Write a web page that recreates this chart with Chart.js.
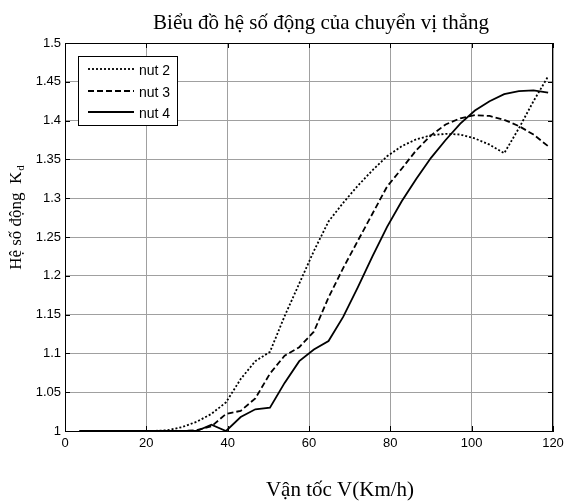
<!DOCTYPE html>
<html>
<head>
<meta charset="utf-8">
<script src="https://cdn.jsdelivr.net/npm/chart.js@4.4.0/dist/chart.umd.min.js"></script>
<style>
    html, body { margin: 0; padding: 0; background: #fff; }
    #wrap { width: 569px; height: 502px; }
</style>
</head>
<body>
<div id="wrap"><canvas id="chart"></canvas></div>
<script>
// van toc (km/h)
const speeds = [3.6, 7.2, 10.8, 14.4, 18, 21.6, 25.2, 28.8, 32.4, 36, 39.6, 43.2, 46.8, 50.4, 54, 57.6, 61.2,
    64.8, 68.4, 72, 75.6, 79.2, 82.8, 86.4, 90, 93.6, 97.2, 100.8, 104.4, 108, 111.6, 115.2, 118.8];

const nut2 = [1, 1, 1, 1, 1, 1, 1.001, 1.005, 1.012, 1.022, 1.037, 1.067, 1.09, 1.102, 1.148, 1.19, 1.232,
    1.27, 1.294, 1.316, 1.336, 1.354, 1.367, 1.376, 1.381, 1.383, 1.382, 1.377, 1.369, 1.358, 1.39, 1.425, 1.457];

const nut3 = [1, 1, 1, 1, 1, 1, 1, 1, 1.001, 1.006, 1.022, 1.026, 1.042, 1.074, 1.097, 1.108, 1.128,
    1.172, 1.21, 1.245, 1.28, 1.315, 1.338, 1.362, 1.381, 1.395, 1.403, 1.407, 1.406, 1.401, 1.393, 1.382, 1.367];

const nut4 = [1, 1, 1, 1, 1, 1, 1, 1, 1, 1.008, 1, 1.018, 1.028, 1.03, 1.062, 1.09, 1.105,
    1.116, 1.147, 1.185, 1.225, 1.263, 1.296, 1.325, 1.352, 1.375, 1.396, 1.413, 1.425, 1.434, 1.438, 1.439, 1.436];

const xTicks = [0, 20, 40, 60, 80, 100, 120];
const yTicks = [1, 1.05, 1.1, 1.15, 1.2, 1.25, 1.3, 1.35, 1.4, 1.45, 1.5];

const titleText = 'Biểu đồ hệ số động của chuyển vị thẳng';
const xLabel = 'Vận tốc V(Km/h)';
const yLabel = 'Hệ số động  K';
const yLabelSub = 'd';

function toPoints(ys) {
    return speeds.map(function (v, i) { return {x: v, y: ys[i]}; });
}

// title, axis labels, box, inner ticks, legend
const decor = {
    id: 'decor',
    afterDraw: function (chart) {
        const ctx = chart.ctx;
        const a = chart.chartArea;
        const xs = chart.scales.x, ys = chart.scales.y;
        ctx.save();

        // box
        ctx.strokeStyle = '#000';
        ctx.lineWidth = 1;
        ctx.setLineDash([]);
        ctx.strokeRect(a.left + 0.5, a.top + 0.5, a.right - a.left - 1, a.bottom - a.top);

        // inner ticks
        ctx.beginPath();
        xTicks.forEach(function (t) {
            const px = Math.round(xs.getPixelForValue(t)) + 0.5;
            ctx.moveTo(px, a.bottom); ctx.lineTo(px, a.bottom - 5);
            ctx.moveTo(px, a.top); ctx.lineTo(px, a.top + 5);
        });
        yTicks.forEach(function (t) {
            const py = Math.round(ys.getPixelForValue(t)) + 0.5;
            ctx.moveTo(a.left, py); ctx.lineTo(a.left + 5, py);
            ctx.moveTo(a.right, py); ctx.lineTo(a.right - 5, py);
        });
        ctx.stroke();

        // title
        ctx.fillStyle = '#000';
        ctx.font = '21px "Liberation Serif", "DejaVu Serif", serif';
        ctx.textAlign = 'center';
        ctx.textBaseline = 'alphabetic';
        ctx.fillText(titleText, 321, 29);

        // x label
        ctx.fillText(xLabel, 340, 496);

        // y label with subscript
        ctx.translate(15, 218);
        ctx.rotate(-Math.PI / 2);
        const mainFont = '17px "Liberation Serif", "DejaVu Serif", serif';
        const subFont = '11px "Liberation Serif", "DejaVu Serif", serif';
        ctx.font = mainFont;
        const w1 = ctx.measureText(yLabel).width;
        ctx.font = subFont;
        const w2 = ctx.measureText(yLabelSub).width;
        const start = -(w1 + w2) / 2;
        ctx.textAlign = 'left';
        ctx.font = mainFont;
        ctx.fillText(yLabel, start, 6);
        ctx.font = subFont;
        ctx.fillText(yLabelSub, start + w1 + 1, 9);
        ctx.setTransform(1, 0, 0, 1, 0, 0);

        // legend
        const lx = 78, ly = 56, lw = 99, lh = 69;
        ctx.fillStyle = '#fff';
        ctx.fillRect(lx, ly, lw, lh);
        ctx.strokeStyle = '#000';
        ctx.lineWidth = 1;
        ctx.strokeRect(lx + 0.5, ly + 0.5, lw, lh);
        const rows = [69, 91, 112];
        chart.data.datasets.forEach(function (ds, i) {
            const y = rows[i];
            ctx.beginPath();
            ctx.strokeStyle = ds.borderColor;
            ctx.lineWidth = ds.borderWidth;
            ctx.setLineDash(ds.borderDash || []);
            ctx.moveTo(88, y);
            ctx.lineTo(134, y);
            ctx.stroke();
            ctx.setLineDash([]);
            ctx.fillStyle = '#000';
            ctx.font = '14px "Liberation Sans", Arial, sans-serif';
            ctx.textAlign = 'left';
            ctx.textBaseline = 'middle';
            ctx.fillText(ds.label, 139, y + 2);
        });

        ctx.restore();
    }
};

const ctx = document.getElementById('chart').getContext('2d');
const myChart = new Chart(ctx, {
    type: 'line',
    data: {
        datasets: [
            {
                label: 'nut 2',
                data: toPoints(nut2),
                borderColor: '#000',
                borderWidth: 1.8,
                borderDash: [2, 2],
                pointRadius: 0,
                fill: false
            },
            {
                label: 'nut 3',
                data: toPoints(nut3),
                borderColor: '#000',
                borderWidth: 1.8,
                borderDash: [6, 3],
                pointRadius: 0,
                fill: false
            },
            {
                label: 'nut 4',
                data: toPoints(nut4),
                borderColor: '#000',
                borderWidth: 1.8,
                pointRadius: 0,
                fill: false
            }
        ]
    },
    options: {
        responsive: true,
        maintainAspectRatio: false,
        animation: false,
        layout: {
            padding: {top: 43, right: 16, left: 0, bottom: 0}
        },
        plugins: {
            legend: {display: false},
            title: {display: false},
            tooltip: {enabled: false}
        },
        scales: {
            x: {
                type: 'linear',
                min: 0,
                max: 120,
                afterBuildTicks: function (scale) {
                    scale.ticks = xTicks.map(function (v) { return {value: v}; });
                },
                afterFit: function (scale) { scale.height = 71; },
                ticks: {
                    color: '#000',
                    padding: 5,
                    maxRotation: 0,
                    font: {family: '"Liberation Sans", Arial, sans-serif', size: 13}
                },
                grid: {color: '#a0a0a0', drawTicks: false},
                border: {color: '#000'}
            },
            y: {
                min: 1,
                max: 1.5,
                afterBuildTicks: function (scale) {
                    scale.ticks = yTicks.map(function (v) { return {value: v}; });
                },
                afterFit: function (scale) { scale.width = 65; },
                ticks: {
                    color: '#000',
                    padding: 4,
                    font: {family: '"Liberation Sans", Arial, sans-serif', size: 13},
                    callback: function (v) { return String(+v.toFixed(2)); }
                },
                grid: {color: '#a0a0a0', drawTicks: false},
                border: {color: '#000'}
            }
        }
    },
    plugins: [decor]
});
</script>
</body>
</html>
